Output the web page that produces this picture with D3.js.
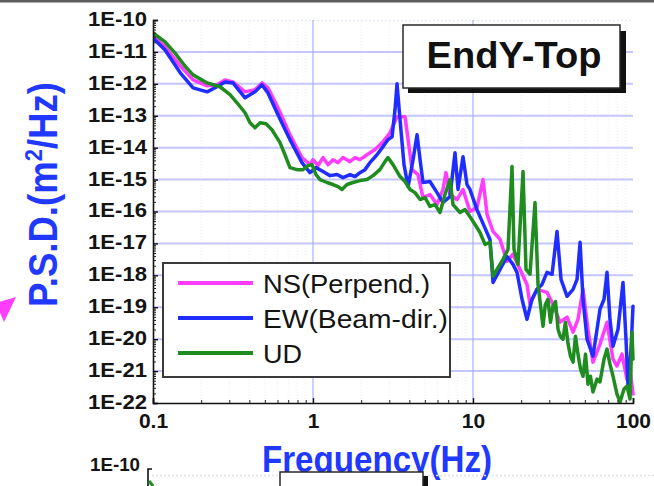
<!DOCTYPE html>
<html><head><meta charset="utf-8">
<script src="https://cdn.jsdelivr.net/npm/d3@7"></script>
<style>body{margin:0;background:#fff;} svg{display:block;}</style>
</head><body>
<svg id="c" width="654" height="486"></svg>
<script>
// ---------- data ----------
const nsFreq = [0.1,0.119,0.148,0.178,0.218,0.251,0.282,0.316,0.376,0.434,0.48,0.523,0.604,0.718,0.853,0.957,1.0,1.075,1.155,1.241,1.334,1.433,1.54,1.703,1.83,1.966,2.175,2.441,2.74,3.029,3.35,3.76,3.93,4.16,4.53,4.87,5.38,5.96,6.49,6.78,7.18,7.94,8.66,9.57,10.59,11.55,12.24,13.34,14.76,16.32,17.78,19.67,21.75,22.71,25.12,29.0,31.6,35.0,38.7,42.2,45.3,48.7,52.3,56.2,62.2,68.8,75.0,79.4,85.4,91.7,95.8,100];
const nsPsd = [3.16e-11,1.44e-11,3.65e-12,1.33e-12,8.7e-13,9.3e-13,1.33e-12,1.15e-12,5.6e-13,6.5e-13,1.07e-12,7.5e-13,1.78e-13,2.55e-14,4.9e-15,2.94e-15,4.2e-15,2.74e-15,4.9e-15,2.94e-15,4.2e-15,3.4e-15,4.9e-15,3.65e-15,4.9e-15,4.2e-15,6.0e-15,8.7e-15,1.54e-14,2.94e-14,9.3e-14,9.3e-14,1.78e-14,2.05e-15,1.44e-15,2.74e-16,3.4e-16,1.65e-16,4.9e-16,1.65e-15,3.4e-16,2.37e-16,4.9e-16,1.0e-16,1.33e-16,1.0e-15,8.1e-17,2.37e-17,1.33e-17,2.74e-18,4.6e-18,1.54e-18,5.2e-19,1.24e-19,3.65e-19,2.94e-19,1.24e-19,3.4e-20,4.9e-20,1.65e-20,4.2e-20,3.65e-19,2.05e-20,1.91e-21,7.0e-21,3.4e-20,2.37e-21,1.44e-21,3.4e-21,5.6e-22,1.15e-21,1.91e-22];

const ewFreq = [0.1,0.119,0.148,0.178,0.218,0.251,0.282,0.316,0.376,0.434,0.48,0.523,0.604,0.718,0.853,0.957,1.044,1.155,1.277,1.413,1.54,1.703,1.83,1.966,2.113,2.27,2.512,2.74,2.94,3.12,3.255,3.35,3.5,3.705,3.93,4.22,4.47,4.67,4.87,5.38,5.96,6.49,7.18,7.72,8.06,8.66,9.17,9.57,10.59,11.06,12.77,13.34,14.76,16.32,17.78,18.84,20.25,21.75,23.37,25.12,27.0,29.0,31.2,33.5,35.5,38.7,42.2,44.7,46.7,48.7,51.6,56.2,59.6,62.2,65.9,68.8,71.8,75.0,80.6,86.6,90.4,93.1,97.2,100];
const ewPsd = [2.74e-11,1.15e-11,2.21e-12,7.5e-13,5.6e-13,8.1e-13,1.15e-12,1.07e-12,3.65e-13,5.6e-13,9.3e-13,5.2e-13,1.08e-13,1.78e-14,3.4e-15,1.65e-15,2.37e-15,1.78e-15,1.33e-15,1.44e-15,1.15e-15,1.44e-15,1.24e-15,1.65e-15,2.05e-15,3.4e-15,6.0e-15,1.08e-14,1.78e-14,2.2e-14,1.54e-13,1.0e-12,7.5e-14,2.94e-15,6.0e-16,4.2e-15,2.55e-14,4.2e-15,8.1e-16,8.7e-16,3.9e-16,1.91e-16,2.94e-16,6.9e-15,4.9e-16,5.2e-15,7.0e-16,4.9e-16,1.15e-16,6.9e-17,1.33e-17,6.0e-19,1.54e-18,3.9e-18,2.2e-18,1.24e-18,1.78e-19,4.2e-20,1.78e-19,3.65e-19,5.2e-19,1.24e-18,1.08e-18,2.37e-17,7.5e-19,2.2e-19,3.65e-19,7.5e-19,1.08e-17,1.78e-19,1.0e-20,2.94e-21,2.05e-20,8.7e-20,1.78e-19,1.24e-18,4.2e-20,6.0e-21,2.05e-20,6.0e-19,1.0e-20,3.4e-22,4.9e-21,1.08e-19];

const udFreq = [0.1,0.119,0.137,0.158,0.178,0.218,0.262,0.303,0.335,0.376,0.404,0.434,0.467,0.509,0.554,0.622,0.668,0.718,0.794,0.866,0.93,0.986,1.044,1.106,1.223,1.334,1.433,1.518,1.632,1.778,1.966,2.175,2.371,2.62,2.818,2.94,3.162,3.5,3.76,4.04,4.34,4.67,5.012,5.38,5.788,6.22,6.68,7.18,7.5,8.3,8.91,9.57,10.29,11.06,11.89,12.77,13.34,14.13,15.4,16.55,17.53,18.04,19.11,20.54,21.44,22.71,24.41,25.49,27.38,28.3,29.4,30.5,31.6,32.8,34.0,35.2,36.5,37.8,39.3,40.7,42.2,43.7,45.3,47.0,48.7,50.5,52.3,54.2,56.2,59.6,62.2,65.9,68.8,71.8,75.0,79.4,83.0,87.9,91.7,95.8,98.6,100];
const udPsd = [3.93e-11,2.05e-11,9.3e-12,3.65e-12,1.91e-12,1.07e-12,8.1e-13,4.6e-13,2.55e-13,1.24e-13,6.0e-14,4.2e-14,6.0e-14,5.6e-14,3.65e-14,1.44e-14,6.0e-15,2.37e-15,2.05e-15,2.05e-15,2.74e-15,2.94e-15,1.44e-15,1.0e-15,8.1e-16,7.0e-16,6.0e-16,4.9e-16,7.0e-16,8.1e-16,9.3e-16,1.0e-15,1.33e-15,2.05e-15,3.65e-15,4.9e-15,2.94e-15,1.24e-15,8.7e-16,4.9e-16,3.9e-16,2.37e-16,2.74e-16,1.44e-16,1.65e-16,9.3e-17,3.4e-16,1.0e-15,1.65e-16,9.3e-17,1.15e-16,6.9e-17,3.9e-17,2.2e-17,9.3e-18,1.08e-17,9.3e-19,1.54e-18,3.16e-18,6.5e-18,2.55e-15,6.5e-18,2.2e-18,1.78e-15,1.54e-18,1.08e-18,1.91e-16,5.2e-19,2.55e-20,1.2e-19,1.78e-19,3.4e-20,1.08e-19,1.5e-19,2.05e-20,1.2e-20,1.0e-20,3.4e-20,7.0e-21,2.9e-21,1.91e-21,1.24e-20,3.4e-21,1.15e-21,6.9e-22,3.4e-21,3.9e-22,6.9e-22,2.2e-22,5.6e-22,4.6e-22,2.37e-21,4.9e-21,1.65e-21,6.9e-22,1.91e-22,1.08e-22,2.74e-22,3.4e-22,1.33e-22,1.65e-20,2.37e-21];

const seriesNames = ["NS(Perpend.)", "EW(Beam-dir.)", "UD"];
const seriesColors = ["#ff3cff", "#1f2eff", "#1f8c1f"];

const xTicks = [0.1, 1, 10, 100];
const xTickLabels = ["0.1", "1", "10", "100"];
const yTicks = [1e-10,1e-11,1e-12,1e-13,1e-14,1e-15,1e-16,1e-17,1e-18,1e-19,1e-20,1e-21,1e-22];
const yTickLabels = ["1E-10","1E-11","1E-12","1E-13","1E-14","1E-15","1E-16","1E-17","1E-18","1E-19","1E-20","1E-21","1E-22"];

const titleText = "EndY-Top";
const xTitle = "Frequency(Hz)";

// ---------- drawing ----------
const FONT = '"Liberation Sans", Arial, Helvetica, sans-serif';
const svg = d3.select("#c");
const x = d3.scaleLog().domain([0.1, 100]).range([153, 633]);
const y = d3.scaleLog().domain([1e-22, 1e-10]).range([403, 20]);

function fitWidth(sel, w) {
  const bw = sel.node().getBBox().width;
  const k = w / bw;
  const t = sel.attr("transform") || "";
  sel.attr("transform", t + ` scale(${k},1)`);
}

// top border strip
svg.append("rect").attr("x", 0).attr("y", 0).attr("width", 654).attr("height", 2.5).attr("fill", "#5c5c5c");

// minor values
const minorX = [], minorY = [];
[0.1, 1, 10].forEach(d => { for (let m = 2; m <= 9; m++) minorX.push(d * m); });
for (let e = -22; e < -10; e++) for (let m = 2; m <= 9; m++) minorY.push(m * Math.pow(10, e));

// faint dotted minor grid
svg.append("g").selectAll("line").data(minorX).join("line")
  .attr("x1", d => x(d)).attr("x2", d => x(d)).attr("y1", 20).attr("y2", 403)
  .attr("stroke", "#eceef6").attr("stroke-width", 1).attr("stroke-dasharray", "1,2");
svg.append("line").attr("x1", 153).attr("x2", 633).attr("y1", 20.5).attr("y2", 20.5)
  .attr("stroke", "#e6e8f4").attr("stroke-width", 1.5).attr("stroke-dasharray", "2,2");

// major grid
svg.append("g").selectAll("line").data(yTicks.slice(1, -1)).join("line")
  .attr("x1", x(0.1)).attr("x2", x(100)).attr("y1", d => y(d)).attr("y2", d => y(d))
  .attr("stroke", "#c3c6ff").attr("stroke-width", 2);
svg.append("g").selectAll("line").data([1, 10]).join("line")
  .attr("x1", d => x(d)).attr("x2", d => x(d)).attr("y1", 20).attr("y2", 403)
  .attr("stroke", "#a9aeff").attr("stroke-width", 1.2);

// clip
svg.append("defs").append("clipPath").attr("id", "plotclip")
  .append("rect").attr("x", 153).attr("y", 18).attr("width", 482).attr("height", 386);

// series
const allSeries = [
  { f: nsFreq, p: nsPsd },
  { f: ewFreq, p: ewPsd },
  { f: udFreq, p: udPsd }
];
const line = d3.line().x(d => x(d[0])).y(d => y(d[1]));
const gLines = svg.append("g").attr("clip-path", "url(#plotclip)");
allSeries.forEach((s, i) => {
  const pts = d3.zip(s.f, s.p);
  gLines.append("path").datum(pts).attr("d", line)
    .attr("fill", "none").attr("stroke", seriesColors[i])
    .attr("stroke-width", 3.5).attr("stroke-linejoin", "round").attr("stroke-linecap", "round");
});

// axes
const yAxis = svg.append("g").attr("transform", "translate(153,0)")
  .call(d3.axisLeft(y).tickValues(yTicks).tickFormat((d, i) => yTickLabels[i]).tickSize(-5).tickPadding(6));
yAxis.select(".domain").attr("stroke", "#111").attr("stroke-width", 1.6);
yAxis.selectAll(".tick line").attr("stroke", "#111").attr("stroke-width", 1.4);
yAxis.selectAll("text").attr("font-family", FONT).attr("font-size", 21).attr("font-weight", "bold")
  .attr("fill", "#141414").attr("dy", "0.26em").attr("textLength", 59).attr("lengthAdjust", "spacingAndGlyphs");
svg.append("g").attr("transform", "translate(153,0)")
  .call(d3.axisLeft(y).tickValues(minorY).tickFormat("").tickSize(-3))
  .call(g => g.select(".domain").remove())
  .selectAll(".tick line").attr("stroke", "#222").attr("stroke-width", 1);

const xAxis = svg.append("g").attr("transform", "translate(0,403)")
  .call(d3.axisBottom(x).tickValues(xTicks).tickFormat((d, i) => xTickLabels[i]).tickSize(-5).tickPadding(10));
xAxis.select(".domain").attr("stroke", "#111").attr("stroke-width", 1.6);
xAxis.selectAll(".tick line").attr("stroke", "#111").attr("stroke-width", 1.4);
xAxis.selectAll("text").attr("font-family", FONT).attr("font-size", 21).attr("font-weight", "bold").attr("fill", "#141414");
svg.append("g").attr("transform", "translate(0,403)")
  .call(d3.axisBottom(x).tickValues(minorX).tickFormat("").tickSize(-3))
  .call(g => g.select(".domain").remove())
  .selectAll(".tick line").attr("stroke", "#222").attr("stroke-width", 1);

// axis titles
const BLUE = "#2038ff";
const yT = svg.append("g").attr("transform", "translate(57,194.5) rotate(-90)");
const yTxt = yT.append("text").attr("text-anchor", "middle").attr("font-family", FONT)
  .attr("font-size", 40).attr("font-weight", "bold").attr("fill", BLUE);
yTxt.append("tspan").text("P.S.D.(m");
yTxt.append("tspan").attr("font-size", 24).attr("dy", -15).text("2");
yTxt.append("tspan").attr("dy", 15).text("/Hz)");
fitWidth(yTxt, 225);

const xT = svg.append("text").attr("x", 0).attr("y", 0).attr("text-anchor", "middle")
  .attr("font-family", FONT).attr("font-size", 37).attr("font-weight", "bold").attr("fill", BLUE)
  .attr("transform", "translate(377,472)").text(xTitle);
fitWidth(xT, 230);

// title box
svg.append("rect").attr("x", 408).attr("y", 31).attr("width", 218).attr("height", 62).attr("fill", "#111");
svg.append("rect").attr("x", 403).attr("y", 25).attr("width", 217).attr("height", 63)
  .attr("fill", "#fff").attr("stroke", "#2a2a2a").attr("stroke-width", 1.5);
const tt = svg.append("text").attr("text-anchor", "middle").attr("font-family", FONT)
  .attr("font-size", 37).attr("font-weight", "bold").attr("fill", "#111")
  .attr("transform", "translate(514,68)").text(titleText);
fitWidth(tt, 175);

// legend
svg.append("rect").attr("x", 163).attr("y", 263).attr("width", 287).attr("height", 114)
  .attr("fill", "#fff").attr("stroke", "#3a3a3a").attr("stroke-width", 2);
const legY = [283, 318, 353];
const legW = [167, 185, 39];
seriesNames.forEach((n, i) => {
  svg.append("line").attr("x1", 178).attr("x2", 253).attr("y1", legY[i]).attr("y2", legY[i])
    .attr("stroke", seriesColors[i]).attr("stroke-width", 4);
  svg.append("text").attr("x", 263).attr("y", legY[i] + 9.5).attr("font-family", FONT)
    .attr("font-size", 25).attr("fill", "#141414")
    .attr("textLength", legW[i]).attr("lengthAdjust", "spacingAndGlyphs").text(n);
});

// magenta pointer
svg.append("polygon").attr("points", "16,297 -4,303 4,322").attr("fill", "#ff3cff");

// start of the next chart (cut off at the bottom)
svg.append("text").attr("x", 140).attr("y", 471).attr("text-anchor", "end").attr("font-family", FONT)
  .attr("font-size", 19).attr("font-weight", "bold").attr("fill", "#141414")
  .attr("textLength", 50).attr("lengthAdjust", "spacingAndGlyphs").text("1E-10");
svg.append("line").attr("x1", 152).attr("x2", 428).attr("y1", 475.5).attr("y2", 475.5)
  .attr("stroke", "#e2e2e8").attr("stroke-width", 1.5).attr("stroke-dasharray", "2,2");
svg.append("line").attr("x1", 428).attr("x2", 654).attr("y1", 475.5).attr("y2", 475.5)
  .attr("stroke", "#e2e2e8").attr("stroke-width", 1.5).attr("stroke-dasharray", "2,2");
svg.append("path").attr("d", "M152,469 L148,469 L148,486").attr("fill", "none").attr("stroke", "#111").attr("stroke-width", 1.6);
svg.append("line").attr("x1", 149).attr("x2", 153).attr("y1", 481).attr("y2", 486).attr("stroke", "#1f8c1f").attr("stroke-width", 3);
svg.append("rect").attr("x", 285).attr("y", 476).attr("width", 143).attr("height", 20).attr("fill", "#111");
svg.append("rect").attr("x", 280).attr("y", 472).attr("width", 143).attr("height", 20)
  .attr("fill", "#fff").attr("stroke", "#2a2a2a").attr("stroke-width", 1.5);
</script>
</body></html>
